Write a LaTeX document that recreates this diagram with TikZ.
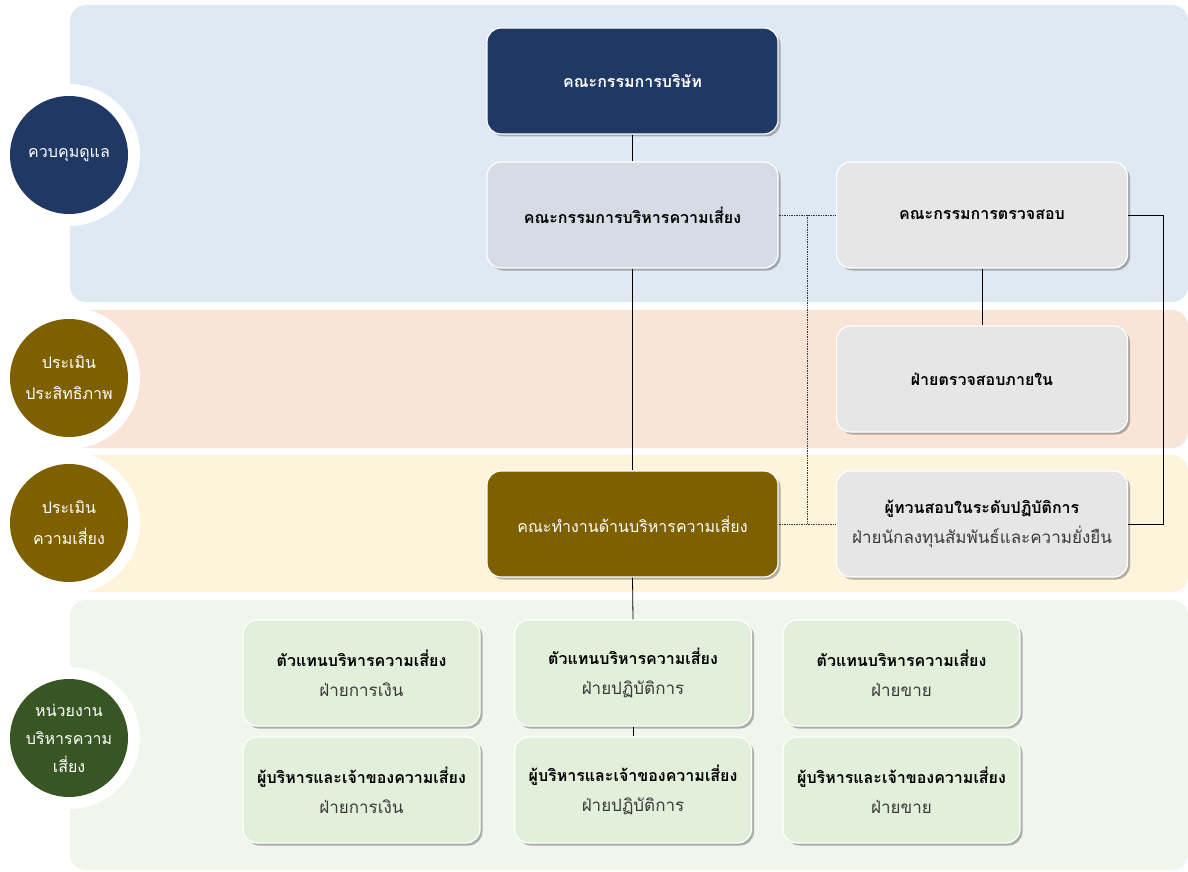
\documentclass[tikz,border=0pt]{standalone}
\usepackage{fontspec}
\newfontfamily\thai[Script=Thai]{Loma}
\usetikzlibrary{shadows}
\definecolor{navy}{HTML}{203864}
\definecolor{olive}{HTML}{7F6000}
\definecolor{forest}{HTML}{375623}
\definecolor{bandblue}{HTML}{DFE9F4}
\definecolor{bandpeach}{HTML}{FAE4D8}
\definecolor{bandyellow}{HTML}{FEF4DB}
\definecolor{bandgreen}{HTML}{F0F6EC}
\definecolor{rmcfill}{HTML}{D6DCE5}
\definecolor{grayfill}{HTML}{E6E6E6}
\definecolor{greenfill}{HTML}{E2EFDA}
\definecolor{subtext}{HTML}{3A3A3A}
\tikzset{
  band/.style={rounded corners=16pt},
  box/.style={rounded corners=14pt, minimum width=291pt, minimum height=106pt,
    draw=white, line width=1.2pt, align=center, font=\thai\fontsize{16}{30}\selectfont,
    drop shadow={shadow xshift=2.5pt, shadow yshift=-2.5pt, fill=black!55, opacity=0.55}},
  smallbox/.style={box, minimum width=237pt, fill=greenfill},
  subline/.style={},
  ring/.style={circle, fill=white, minimum size=142pt, inner sep=0pt},
  badge/.style={circle, minimum size=118pt, inner sep=0pt, align=center, text=white,
    font=\thai\fontsize{16}{31}\selectfont},
  conn/.style={draw=black, line width=0.8pt},
  dotconn/.style={draw=black!80, line width=0.7pt, densely dotted},
}
\newcommand{\sub}[1]{{\color{subtext}\fontsize{17}{30}\selectfont #1}}
\begin{document}
\begin{tikzpicture}[x=1pt,y=-1pt]
\useasboundingbox (0,0) rectangle (1188,872);
% bands
\fill[band, bandblue] (70,5) rectangle (1188,302);
\fill[band, bandpeach] (70,310) rectangle (1188,448);
\fill[band, bandyellow] (70,455) rectangle (1188,592);
\fill[band, bandgreen] (70,600) rectangle (1188,870);
% left badges
\node[ring] (r1) at (69,155) {};
\node[badge, fill=navy] (c1) at (69,155) {ควบคุมดูแล};
\node[ring] (r2) at (69,378) {};
\node[badge, fill=olive] (c2) at (69,378) {ประเมิน\\ประสิทธิภาพ};
\node[ring] (r3) at (69,523) {};
\node[badge, fill=olive] (c3) at (69,523) {ประเมิน\\ความเสี่ยง};
\node[ring] (r4) at (69,738) {};
\node[badge, fill=forest, font=\thai\fontsize{16}{28}\selectfont] (c4) at (69,738) {หน่วยงาน\\บริหารความ\\เสี่ยง};
% boxes
\node[box, fill=navy, text=white] (board) at (632.5,81) {\bfseries คณะกรรมการบริษัท};
\node[box, fill=rmcfill] (rmc) at (632.5,215) {\bfseries คณะกรรมการบริหารความเสี่ยง};
\node[box, fill=grayfill] (ac) at (982,215) {\bfseries คณะกรรมการตรวจสอบ};
\node[box, fill=grayfill] (ia) at (982,379) {\bfseries ฝ่ายตรวจสอบภายใน};
\node[box, fill=olive, text=white] (wg) at (632.5,524) {คณะทำงานด้านบริหารความเสี่ยง};
\node[box, fill=grayfill] (rev) at (982,524) {\bfseries ผู้ทวนสอบในระดับปฏิบัติการ\\\sub{ฝ่ายนักลงทุนสัมพันธ์และความยั่งยืน}};
\node[smallbox] (b11) at (361.5,673) {\bfseries ตัวแทนบริหารความเสี่ยง\\\sub{ฝ่ายการเงิน}};
\node[smallbox] (b12) at (633,673) {\bfseries ตัวแทนบริหารความเสี่ยง\\\sub{ฝ่ายปฏิบัติการ}};
\node[smallbox] (b13) at (901.5,673) {\bfseries ตัวแทนบริหารความเสี่ยง\\\sub{ฝ่ายขาย}};
\node[smallbox] (b21) at (361.5,790) {\bfseries ผู้บริหารและเจ้าของความเสี่ยง\\\sub{ฝ่ายการเงิน}};
\node[smallbox] (b22) at (633,790) {\bfseries ผู้บริหารและเจ้าของความเสี่ยง\\\sub{ฝ่ายปฏิบัติการ}};
\node[smallbox] (b23) at (901.5,790) {\bfseries ผู้บริหารและเจ้าของความเสี่ยง\\\sub{ฝ่ายขาย}};
% connectors
\draw[conn] (board.south) -- (rmc.north);
\draw[conn] (rmc.south) -- (wg.north);
\draw[conn] (wg.south) -- (b12.north);
\draw[conn] (b12.south) -- (b22.north);
\draw[conn] (ac.south) -- (ia.north);
\draw[conn] (ac.east) -- ++(35,0) |- (rev.east);
\draw[dotconn] (rmc.east) -- (ac.west);
\coordinate (dv) at (807,215);
\draw[dotconn] (dv) -- (dv |- wg.east);
\draw[dotconn] (wg.east) -- (rev.west);
\end{tikzpicture}
\end{document}
